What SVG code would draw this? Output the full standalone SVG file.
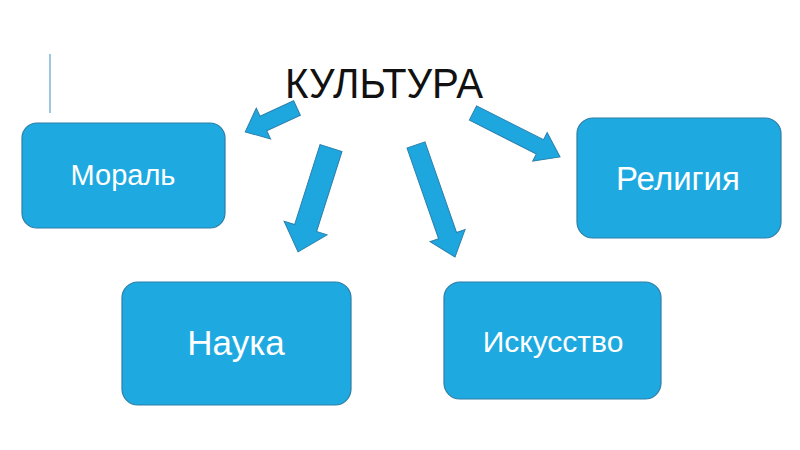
<svg xmlns="http://www.w3.org/2000/svg" width="800" height="450" viewBox="0 0 800 450">
<style>
.box{fill:#1EAAE1;stroke:#2C7DA8;stroke-width:1.2}
.lbl{fill:#fff;font-family:"Liberation Sans",Arial,sans-serif;text-anchor:middle}
.arr{fill:#1EA7DF;stroke:#2A80AE;stroke-width:1;stroke-linejoin:miter}
</style>
<rect width="800" height="450" fill="#fff"/>
<line x1="50" y1="54" x2="50" y2="113" stroke="#9CC7E3" stroke-width="2"/>
<text x="384" y="98" font-family="'Liberation Sans',Arial,sans-serif" font-size="42" fill="#111" text-anchor="middle" textLength="198" lengthAdjust="spacingAndGlyphs">КУЛЬТУРА</text>
<g id="connectors">
<path class="arr" transform="translate(297,108) rotate(155.2)" d="M0,-8 L37,-8 L37,-17 L57,0 L37,17 L37,8 L0,8 Z"/>
<path class="arr" transform="translate(331,148) rotate(107.6)" d="M0,-11.5 L84,-11.5 L84,-22.5 L109,0 L84,22.5 L84,11.5 L0,11.5 Z"/>
<path class="arr" transform="translate(416,145) rotate(70.8)" d="M0,-9.5 L96,-9.5 L96,-18.5 L118.6,0 L96,18.5 L96,9.5 L0,9.5 Z"/>
<path class="arr" transform="translate(473,113) rotate(26.8)" d="M0,-8 L75,-8 L75,-16 L97.5,0 L75,16 L75,8 L0,8 Z"/>
</g>
<g id="moral">
<rect class="box" x="22" y="123" width="203" height="105" rx="15"/>
<text class="lbl" x="123" y="185" font-size="29">Мораль</text>
</g>
<g id="religion">
<rect class="box" x="577" y="118" width="204" height="120" rx="16"/>
<text class="lbl" x="678" y="190" font-size="33">Религия</text>
</g>
<g id="nauka">
<rect class="box" x="122" y="282" width="229" height="123" rx="16"/>
<text class="lbl" x="236" y="355" font-size="35">Наука</text>
</g>
<g id="iskusstvo">
<rect class="box" x="444" y="282" width="217" height="117" rx="16"/>
<text class="lbl" x="553" y="352" font-size="30">Искусство</text>
</g>
</svg>
